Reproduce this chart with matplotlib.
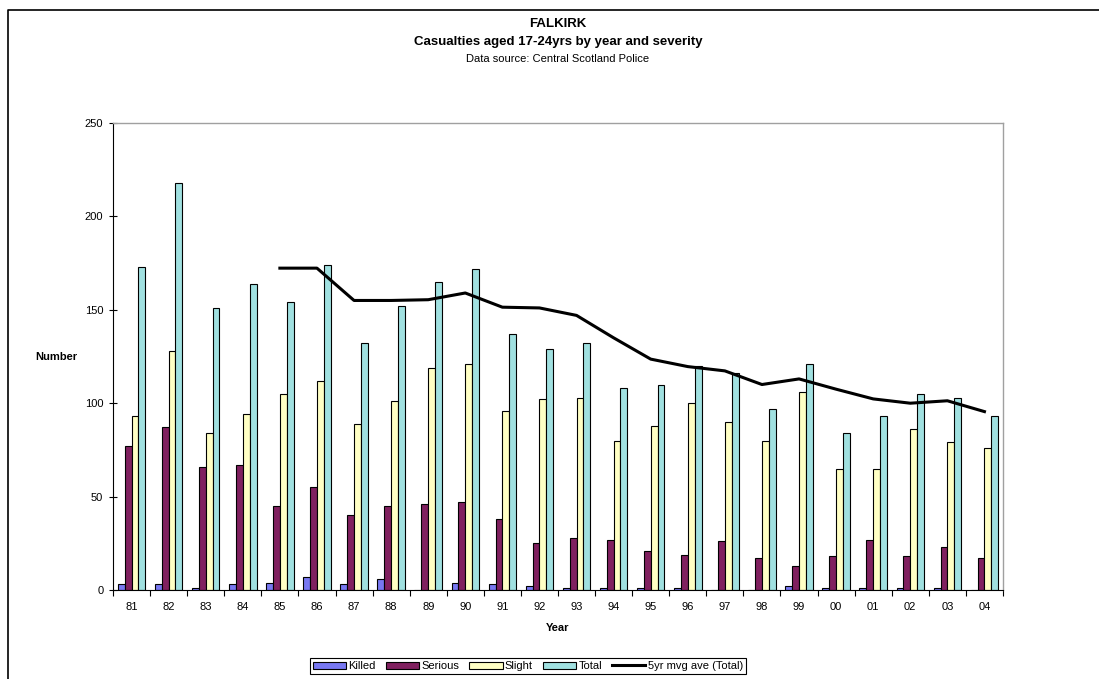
import numpy as np
import matplotlib
matplotlib.use("Agg")
import matplotlib.pyplot as plt
from matplotlib.lines import Line2D

plt.rcParams["font.family"] = ["Liberation Sans", "DejaVu Sans"]

# casualties aged 17-24, Falkirk, 1981-2004
years = ["81", "82", "83", "84", "85", "86", "87", "88", "89", "90", "91", "92",
         "93", "94", "95", "96", "97", "98", "99", "00", "01", "02", "03", "04"]
killed = [3, 3, 1, 3, 4, 7, 3, 6, 0, 4, 3, 2, 1, 1, 1, 1, 0, 0, 2, 1, 1, 1, 1, 0]
serious = [77, 87, 66, 67, 45, 55, 40, 45, 46, 47, 38, 25, 28, 27, 21, 19, 26, 17,
           13, 18, 27, 18, 23, 17]
slight = [93, 128, 84, 94, 105, 112, 89, 101, 119, 121, 96, 102, 103, 80, 88, 100,
          90, 80, 106, 65, 65, 86, 79, 76]
total = [173, 218, 151, 164, 154, 174, 132, 152, 165, 172, 137, 129, 132, 108, 110,
         120, 116, 97, 121, 84, 93, 105, 103, 93]
# 5 year moving average of totals, first value at 85
mvg_ave = [172.3, 172.3, 155.0, 155.0, 155.4, 159.0, 151.4, 151.0, 147.0, 135.0,
           123.6, 119.6, 117.3, 110.0, 113.0, 107.5, 102.3, 100.0, 101.3, 95.5]

W, H = 1099, 679
fig = plt.figure(figsize=(W / 100, H / 100), dpi=100)
fig.patch.set_facecolor("white")

# chart border (top and left edges)
fig.add_artist(Line2D([8 / W, 8 / W, 1.0], [0.0, 1 - 10 / H, 1 - 10 / H],
                      transform=fig.transFigure, color="black", lw=1.2))

ax = fig.add_axes([113 / W, 1 - 590 / H, 890 / W, 467 / H])

x = np.arange(len(years))
bw = 0.185
series = [("Killed", killed, "#7878f2"),
          ("Serious", serious, "#80205f"),
          ("Slight", slight, "#ffffc4"),
          ("Total", total, "#a0e0e0")]
handles = []
for i, (name, vals, col) in enumerate(series):
    b = ax.bar(x + (i - 1.5) * bw, vals, width=bw, color=col, edgecolor="black",
               linewidth=0.8, label=name, zorder=2)
    handles.append(b)

line, = ax.plot(x[4:], mvg_ave, color="black", lw=2.2,
                label="5yr mvg ave (Total)", zorder=3)
handles.append(line)

ax.set_xlim(-0.5, len(years) - 0.5)
ax.set_ylim(0, 250)
ax.set_yticks(np.arange(0, 251, 50))
ax.set_xticks(x)
ax.set_xticklabels(years)
ax.set_xticks(np.arange(-0.5, len(years), 1), minor=True)
ax.tick_params(axis="x", which="major", length=0, pad=9, labelsize=8)
ax.tick_params(axis="x", which="minor", length=4, direction="out", width=0.8)
ax.tick_params(axis="y", length=6, direction="inout", width=0.8, labelsize=8, pad=4)

for s in ("left", "bottom"):
    ax.spines[s].set_color("black")
    ax.spines[s].set_linewidth(0.8)
for s in ("top", "right"):
    ax.spines[s].set_color("#a0a0a0")
    ax.spines[s].set_linewidth(1.0)

# titles and axis labels
cx = (113 + 1003) / 2 / W
fig.text(cx, 1 - 24 / H, "FALKIRK", ha="center", va="center", fontsize=9.5,
         fontweight="bold")
fig.text(cx, 1 - 42 / H, "Casualties aged 17-24yrs by year and severity",
         ha="center", va="center", fontsize=9.5, fontweight="bold")
fig.text(cx, 1 - 59 / H, "Data source: Central Scotland Police",
         ha="center", va="center", fontsize=8)
fig.text(56 / W, 1 - 357 / H, "Number", ha="center", va="center", fontsize=8,
         fontweight="bold")
fig.text(cx, 1 - 628 / H, "Year", ha="center", va="center", fontsize=8,
         fontweight="bold")

leg = fig.legend(handles, [h.get_label() for h in handles], loc="center", ncol=5,
                 bbox_to_anchor=(528 / W, 1 - 666 / H), fontsize=8,
                 frameon=True, fancybox=False, framealpha=1, edgecolor="black",
                 handlelength=3.0, handleheight=0.6, handletextpad=0.2,
                 columnspacing=0.9, borderpad=0.3, borderaxespad=0)
leg.get_frame().set_linewidth(0.8)

fig.savefig("out.png", dpi=100, facecolor="white")
